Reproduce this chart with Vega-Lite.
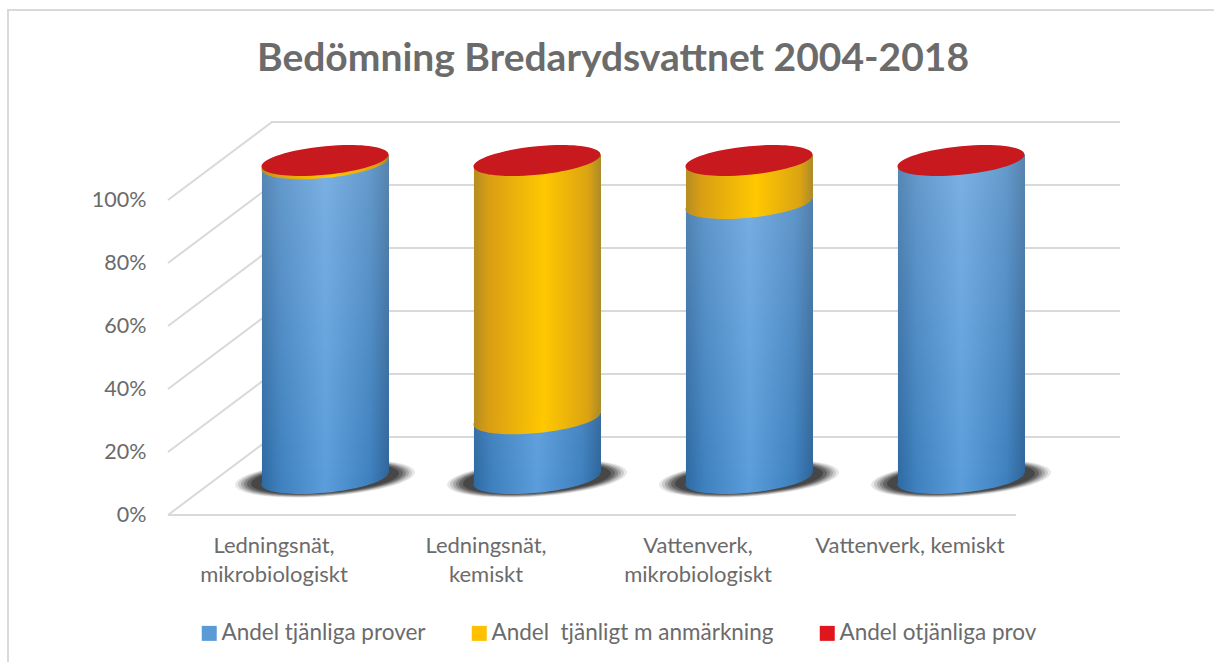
{
"$schema":"https://vega.github.io/schema/vega-lite/v6.json",
"width":1216,"height":662,
"autosize":{"type":"none"},
"padding":{"left":8,"top":10,"right":-10,"bottom":-10},
"background":"white",
"config":{"view":{"stroke":"#d9d9d9","strokeWidth":2},"font":"Lato"},
"title":{"text":"Bedömning Bredarydsvattnet 2004-2018","font":"Lato","fontSize":39,"fontWeight":"bold","color":"#6b6b6b","anchor":"middle","frame":"group","dx":-3,"dy":69,"offset":0},
"datasets":{
"segments":[
{"category":"Ledningsnät, mikrobiologiskt","series":"Andel tjänliga prover","start":0,"end":99},
{"category":"Ledningsnät, mikrobiologiskt","series":"Andel \u00a0tjänligt m anmärkning","start":99,"end":100},
{"category":"Ledningsnät, mikrobiologiskt","series":"Andel otjänliga prov","start":100,"end":100},
{"category":"Ledningsnät, kemiskt","series":"Andel tjänliga prover","start":0,"end":18.8},
{"category":"Ledningsnät, kemiskt","series":"Andel \u00a0tjänligt m anmärkning","start":18.8,"end":100},
{"category":"Ledningsnät, kemiskt","series":"Andel otjänliga prov","start":100,"end":100},
{"category":"Vattenverk, mikrobiologiskt","series":"Andel tjänliga prover","start":0,"end":86.5},
{"category":"Vattenverk, mikrobiologiskt","series":"Andel \u00a0tjänligt m anmärkning","start":86.5,"end":100},
{"category":"Vattenverk, mikrobiologiskt","series":"Andel otjänliga prov","start":100,"end":100},
{"category":"Vattenverk, kemiskt","series":"Andel tjänliga prover","start":0,"end":100},
{"category":"Vattenverk, kemiskt","series":"Andel otjänliga prov","start":100,"end":100}
],
"bodies":[
{"category":"a","part":"blue","u":11.08,"lo":-1.88,"hi":97.12},{"category":"a","part":"blue","u":26.06,"lo":1.88,"hi":100.88},
{"category":"b","part":"blue","u":36.08,"lo":-1.88,"hi":16.92},{"category":"b","part":"blue","u":51.06,"lo":1.88,"hi":20.68},
{"category":"c","part":"blue","u":61.08,"lo":-1.88,"hi":84.62},{"category":"c","part":"blue","u":76.06,"lo":1.88,"hi":88.38},
{"category":"d","part":"blue","u":86.08,"lo":-1.88,"hi":98.12},{"category":"d","part":"blue","u":101.06,"lo":1.88,"hi":101.88},
{"category":"a","part":"yellow","u":11.08,"lo":97.12,"hi":98.12},{"category":"a","part":"yellow","u":26.06,"lo":100.88,"hi":101.88},
{"category":"b","part":"yellow","u":36.08,"lo":16.92,"hi":98.12},{"category":"b","part":"yellow","u":51.06,"lo":20.68,"hi":101.88},
{"category":"c","part":"yellow","u":61.08,"lo":84.62,"hi":98.12},{"category":"c","part":"yellow","u":76.06,"lo":88.38,"hi":101.88},
{"category":"a","part":"whole","u":11.08,"lo":-1.88,"hi":98.12},{"category":"a","part":"whole","u":26.06,"lo":1.88,"hi":101.88},
{"category":"b","part":"whole","u":36.08,"lo":-1.88,"hi":98.12},{"category":"b","part":"whole","u":51.06,"lo":1.88,"hi":101.88},
{"category":"c","part":"whole","u":61.08,"lo":-1.88,"hi":98.12},{"category":"c","part":"whole","u":76.06,"lo":1.88,"hi":101.88},
{"category":"d","part":"whole","u":86.08,"lo":-1.88,"hi":98.12},{"category":"d","part":"whole","u":101.06,"lo":1.88,"hi":101.88}
],
"grid":[
{"line":"front","u":0,"v":0},{"line":"front","u":100,"v":0},
{"line":"l0","u":0,"v":0},{"line":"l0","u":12.26,"v":24.76},{"line":"l0","u":112.26,"v":24.76},
{"line":"l20","u":0,"v":20},{"line":"l20","u":12.26,"v":44.76},{"line":"l20","u":112.26,"v":44.76},
{"line":"l40","u":0,"v":40},{"line":"l40","u":12.26,"v":64.76},{"line":"l40","u":112.26,"v":64.76},
{"line":"l60","u":0,"v":60},{"line":"l60","u":12.26,"v":84.76},{"line":"l60","u":112.26,"v":84.76},
{"line":"l80","u":0,"v":80},{"line":"l80","u":12.26,"v":104.76},{"line":"l80","u":112.26,"v":104.76},
{"line":"l100","u":0,"v":100},{"line":"l100","u":12.26,"v":124.76},{"line":"l100","u":112.26,"v":124.76}
]
},
"resolve":{"scale":{"x":"independent","y":"independent"},"axis":{"x":"independent","y":"independent"}},
"layer":[
{"data":{"name":"grid"},
 "mark":{"type":"line","stroke":"#d9d9d9","strokeWidth":2},
 "encoding":{
  "x":{"field":"u","type":"quantitative","scale":{"domain":[0,100],"range":[160,1008],"nice":false,"zero":false},"axis":null},
  "y":{"field":"v","type":"quantitative","scale":{"domain":[0,100],"range":[505,190],"nice":false},
   "axis":{"values":[0,20,40,60,80,100],"labelExpr":"datum.value + '%'","title":null,"domain":false,"ticks":false,"grid":false,"offset":-160,"labelPadding":22,"labelFont":"Lato","labelFontSize":21.5,"labelColor":"#6b6b6b"}},
  "detail":{"field":"line"},
  "order":{"field":"u"}
 }},
{"data":{"name":"segments"},
 "transform":[{"filter":"datum.series === 'Andel tjänliga prover'"}],
 "mark":{"type":"point","filled":true,"opacity":0.12,"fill":"#444444","shape":"M1 -0.07 C1 0.0405 0.552 0.1613 0 0.2 C-0.552 0.2387 -1 0.1805 -1 0.07 C-1 -0.0405 -0.552 -0.1613 0 -0.2 C0.552 -0.2387 1 -0.1805 1 -0.07 Z","size":32400},
 "encoding":{
  "x":{"field":"category","type":"nominal","sort":null,"scale":{"type":"band","range":[211,1059],"padding":0,"domain":["Ledningsnät, mikrobiologiskt","Ledningsnät, kemiskt","Vattenverk, mikrobiologiskt","Vattenverk, kemiskt"]},"axis":null},
  "y":{"field":"start","type":"quantitative","scale":{"domain":[0,100],"range":[468.5,150.5],"nice":false},"axis":null}
 }},
{"data":{"name":"segments"},
 "transform":[{"filter":"datum.series === 'Andel tjänliga prover'"}],
 "mark":{"type":"point","filled":true,"opacity":0.18,"fill":"#444444","shape":"M1 -0.07 C1 0.0405 0.552 0.1613 0 0.2 C-0.552 0.2387 -1 0.1805 -1 0.07 C-1 -0.0405 -0.552 -0.1613 0 -0.2 C0.552 -0.2387 1 -0.1805 1 -0.07 Z","size":30276},
 "encoding":{
  "x":{"field":"category","type":"nominal","sort":null,"scale":{"type":"band","range":[211,1059],"padding":0,"domain":["Ledningsnät, mikrobiologiskt","Ledningsnät, kemiskt","Vattenverk, mikrobiologiskt","Vattenverk, kemiskt"]},"axis":null},
  "y":{"field":"start","type":"quantitative","scale":{"domain":[0,100],"range":[468.5,150.5],"nice":false},"axis":null}
 }},
{"data":{"name":"segments"},
 "transform":[{"filter":"datum.series === 'Andel tjänliga prover'"}],
 "mark":{"type":"point","filled":true,"opacity":0.25,"fill":"#444444","shape":"M1 -0.07 C1 0.0405 0.552 0.1613 0 0.2 C-0.552 0.2387 -1 0.1805 -1 0.07 C-1 -0.0405 -0.552 -0.1613 0 -0.2 C0.552 -0.2387 1 -0.1805 1 -0.07 Z","size":28224},
 "encoding":{
  "x":{"field":"category","type":"nominal","sort":null,"scale":{"type":"band","range":[211,1059],"padding":0,"domain":["Ledningsnät, mikrobiologiskt","Ledningsnät, kemiskt","Vattenverk, mikrobiologiskt","Vattenverk, kemiskt"]},"axis":null},
  "y":{"field":"start","type":"quantitative","scale":{"domain":[0,100],"range":[468.5,150.5],"nice":false},"axis":null}
 }},
{"data":{"name":"segments"},
 "transform":[{"filter":"datum.series === 'Andel tjänliga prover'"}],
 "mark":{"type":"point","filled":true,"opacity":0.35,"fill":"#444444","shape":"M1 -0.07 C1 0.0405 0.552 0.1613 0 0.2 C-0.552 0.2387 -1 0.1805 -1 0.07 C-1 -0.0405 -0.552 -0.1613 0 -0.2 C0.552 -0.2387 1 -0.1805 1 -0.07 Z","size":26244},
 "encoding":{
  "x":{"field":"category","type":"nominal","sort":null,"scale":{"type":"band","range":[211,1059],"padding":0,"domain":["Ledningsnät, mikrobiologiskt","Ledningsnät, kemiskt","Vattenverk, mikrobiologiskt","Vattenverk, kemiskt"]},"axis":null},
  "y":{"field":"start","type":"quantitative","scale":{"domain":[0,100],"range":[468.5,150.5],"nice":false},"axis":null}
 }},
{"data":{"name":"segments"},
 "transform":[{"filter":"datum.series === 'Andel tjänliga prover'"}],
 "mark":{"type":"point","filled":true,"opacity":0.5,"fill":"#444444","shape":"M1 -0.07 C1 0.0405 0.552 0.1613 0 0.2 C-0.552 0.2387 -1 0.1805 -1 0.07 C-1 -0.0405 -0.552 -0.1613 0 -0.2 C0.552 -0.2387 1 -0.1805 1 -0.07 Z","size":24336},
 "encoding":{
  "x":{"field":"category","type":"nominal","sort":null,"scale":{"type":"band","range":[211,1059],"padding":0,"domain":["Ledningsnät, mikrobiologiskt","Ledningsnät, kemiskt","Vattenverk, mikrobiologiskt","Vattenverk, kemiskt"]},"axis":null},
  "y":{"field":"start","type":"quantitative","scale":{"domain":[0,100],"range":[468.5,150.5],"nice":false},"axis":null}
 }},
{"data":{"name":"segments"},
 "transform":[{"filter":"datum.series === 'Andel tjänliga prover'"}],
 "mark":{"type":"point","filled":true,"opacity":0.9,"fill":"#444444","shape":"M1 -0.07 C1 0.0405 0.552 0.1613 0 0.2 C-0.552 0.2387 -1 0.1805 -1 0.07 C-1 -0.0405 -0.552 -0.1613 0 -0.2 C0.552 -0.2387 1 -0.1805 1 -0.07 Z","size":21904},
 "encoding":{
  "x":{"field":"category","type":"nominal","sort":null,"scale":{"type":"band","range":[211,1059],"padding":0,"domain":["Ledningsnät, mikrobiologiskt","Ledningsnät, kemiskt","Vattenverk, mikrobiologiskt","Vattenverk, kemiskt"]},"axis":null},
  "y":{"field":"start","type":"quantitative","scale":{"domain":[0,100],"range":[468.5,150.5],"nice":false},"axis":null}
 }},
{"data":{"name":"segments"},
 "transform":[{"filter":"datum.series === 'Andel tjänliga prover'"}],
 "mark":{"type":"point","filled":true,"opacity":1,"shape":"M1 -0.095 C1 0.0293 0.552 0.1725 0 0.225 C-0.552 0.2775 -1 0.2193 -1 0.095 C-1 -0.0293 -0.552 -0.1725 0 -0.225 C0.552 -0.2775 1 -0.2193 1 -0.095 Z","size":16129,
  "fill":{"gradient":"linear","x1":0,"y1":0,"x2":1,"y2":0,"stops":[{"offset":0,"color":"#2e6aa3"},{"offset":0.15,"color":"#3f81bf"},{"offset":0.5,"color":"#5b9ddb"},{"offset":0.85,"color":"#3f81bf"},{"offset":1,"color":"#2e659a"}]}},
 "encoding":{
  "x":{"field":"category","type":"nominal","sort":null,"scale":{"type":"band","range":[211,1059],"padding":0,"domain":["Ledningsnät, mikrobiologiskt","Ledningsnät, kemiskt","Vattenverk, mikrobiologiskt","Vattenverk, kemiskt"]},"axis":null},
  "y":{"field":"start","type":"quantitative","scale":{"domain":[0,100],"range":[468.5,150.5],"nice":false},"axis":null}
 }},
{"data":{"name":"bodies"},
 "transform":[{"filter":"datum.part === 'blue'"}],
 "mark":{"type":"area","fill":{"gradient":"linear","x1":0,"y1":0,"x2":1,"y2":0,"stops":[{"offset":0,"color":"#2e6aa3"},{"offset":0.15,"color":"#3f81bf"},{"offset":0.5,"color":"#5b9ddb"},{"offset":0.85,"color":"#3f81bf"},{"offset":1,"color":"#2e659a"}]}},
 "encoding":{
  "x":{"field":"u","type":"quantitative","scale":{"domain":[0,100],"range":[160,1008],"nice":false,"zero":false},"axis":null},
  "y":{"field":"lo","type":"quantitative","scale":{"domain":[0,100],"range":[468.5,150.5],"nice":false},"axis":null},
  "y2":{"field":"hi"},
  "detail":{"field":"category"}
 }},
{"data":{"name":"bodies"},
 "transform":[{"filter":"datum.part === 'whole'"}],
 "mark":{"type":"area","fill":{"gradient":"linear","x1":0,"y1":0,"x2":0,"y2":1,"stops":[{"offset":0,"color":"rgba(255,255,255,0.2)"},{"offset":1,"color":"rgba(255,255,255,0)"}]}},
 "encoding":{
  "x":{"field":"u","type":"quantitative","scale":{"domain":[0,100],"range":[160,1008],"nice":false,"zero":false},"axis":null},
  "y":{"field":"lo","type":"quantitative","scale":{"domain":[0,100],"range":[468.5,150.5],"nice":false},"axis":null},
  "y2":{"field":"hi"},
  "detail":{"field":"category"}
 }},
{"data":{"name":"segments"},
 "transform":[{"filter":"datum.series === 'Andel \u00a0tjänligt m anmärkning'"}],
 "mark":{"type":"point","filled":true,"opacity":1,"shape":"M1 -0.095 C1 0.0293 0.552 0.1725 0 0.225 C-0.552 0.2775 -1 0.2193 -1 0.095 C-1 -0.0293 -0.552 -0.1725 0 -0.225 C0.552 -0.2775 1 -0.2193 1 -0.095 Z","size":16129,
  "fill":{"gradient":"linear","x1":0,"y1":0,"x2":1,"y2":0,"stops":[{"offset":0,"color":"#b58d22"},{"offset":0.12,"color":"#d99e14"},{"offset":0.55,"color":"#ffc800"},{"offset":0.9,"color":"#dba312"},{"offset":1,"color":"#ab8a28"}]}},
 "encoding":{
  "x":{"field":"category","type":"nominal","sort":null,"scale":{"type":"band","range":[211,1059],"padding":0,"domain":["Ledningsnät, mikrobiologiskt","Ledningsnät, kemiskt","Vattenverk, mikrobiologiskt","Vattenverk, kemiskt"]},"axis":null},
  "y":{"field":"start","type":"quantitative","scale":{"domain":[0,100],"range":[468.5,150.5],"nice":false},"axis":null}
 }},
{"data":{"name":"bodies"},
 "transform":[{"filter":"datum.part === 'yellow'"}],
 "mark":{"type":"area","fill":{"gradient":"linear","x1":0,"y1":0,"x2":1,"y2":0,"stops":[{"offset":0,"color":"#b58d22"},{"offset":0.12,"color":"#d99e14"},{"offset":0.55,"color":"#ffc800"},{"offset":0.9,"color":"#dba312"},{"offset":1,"color":"#ab8a28"}]}},
 "encoding":{
  "x":{"field":"u","type":"quantitative","scale":{"domain":[0,100],"range":[160,1008],"nice":false,"zero":false},"axis":null},
  "y":{"field":"lo","type":"quantitative","scale":{"domain":[0,100],"range":[468.5,150.5],"nice":false},"axis":null},
  "y2":{"field":"hi"},
  "detail":{"field":"category"}
 }},
{"data":{"name":"segments"},
 "transform":[{"filter":"datum.series === 'Andel otjänliga prov'"}],
 "mark":{"type":"point","filled":true,"opacity":1,"fill":"#c8191f","shape":"M1 -0.095 C1 0.0293 0.552 0.1725 0 0.225 C-0.552 0.2775 -1 0.2193 -1 0.095 C-1 -0.0293 -0.552 -0.1725 0 -0.225 C0.552 -0.2775 1 -0.2193 1 -0.095 Z","size":16129},
 "encoding":{
  "x":{"field":"category","type":"nominal","sort":null,"scale":{"type":"band","range":[211,1059],"padding":0,"domain":["Ledningsnät, mikrobiologiskt","Ledningsnät, kemiskt","Vattenverk, mikrobiologiskt","Vattenverk, kemiskt"]},"axis":null},
  "y":{"field":"end","type":"quantitative","scale":{"domain":[0,100],"range":[468.5,150.5],"nice":false},"axis":null}
 }},
{"data":{"name":"segments"},
 "mark":{"type":"square","size":1,"opacity":0},
 "encoding":{
  "x":{"field":"category","type":"nominal","sort":null,"scale":{"type":"band","range":[160,1008],"padding":0,"domain":["Ledningsnät, mikrobiologiskt","Ledningsnät, kemiskt","Vattenverk, mikrobiologiskt","Vattenverk, kemiskt"]},
   "axis":{"title":null,"domain":false,"ticks":false,"labelAngle":0,"offset":-157,"labelPadding":20,"labelFont":"Lato","labelFontSize":22,"labelLineHeight":29,"labelColor":"#6b6b6b","labelExpr":"datum.label === 'Vattenverk, kemiskt' ? datum.label : split(datum.label, ' ')","labelLimit":300,"labelBaseline":"top"}},
  "y":{"field":"end","type":"quantitative","scale":{"domain":[0,100],"range":[468.5,150.5],"nice":false},"axis":null},
  "color":{"field":"series","type":"nominal","scale":{"domain":["Andel tjänliga prover","Andel \u00a0tjänligt m anmärkning","Andel otjänliga prov"],"range":["#5b9bd5","#ffc000","#e0161d"]},
   "legend":{"title":null,"orient":"none","legendX":190,"legendY":612,"direction":"horizontal","columns":3,"columnPadding":42,"symbolType":"square","symbolSize":225,"symbolOpacity":1,"symbolStrokeWidth":0,"labelFont":"Lato","labelFontSize":22.5,"labelColor":"#6b6b6b","labelLimit":400,"labelOffset":1}}
 }}
]
}
